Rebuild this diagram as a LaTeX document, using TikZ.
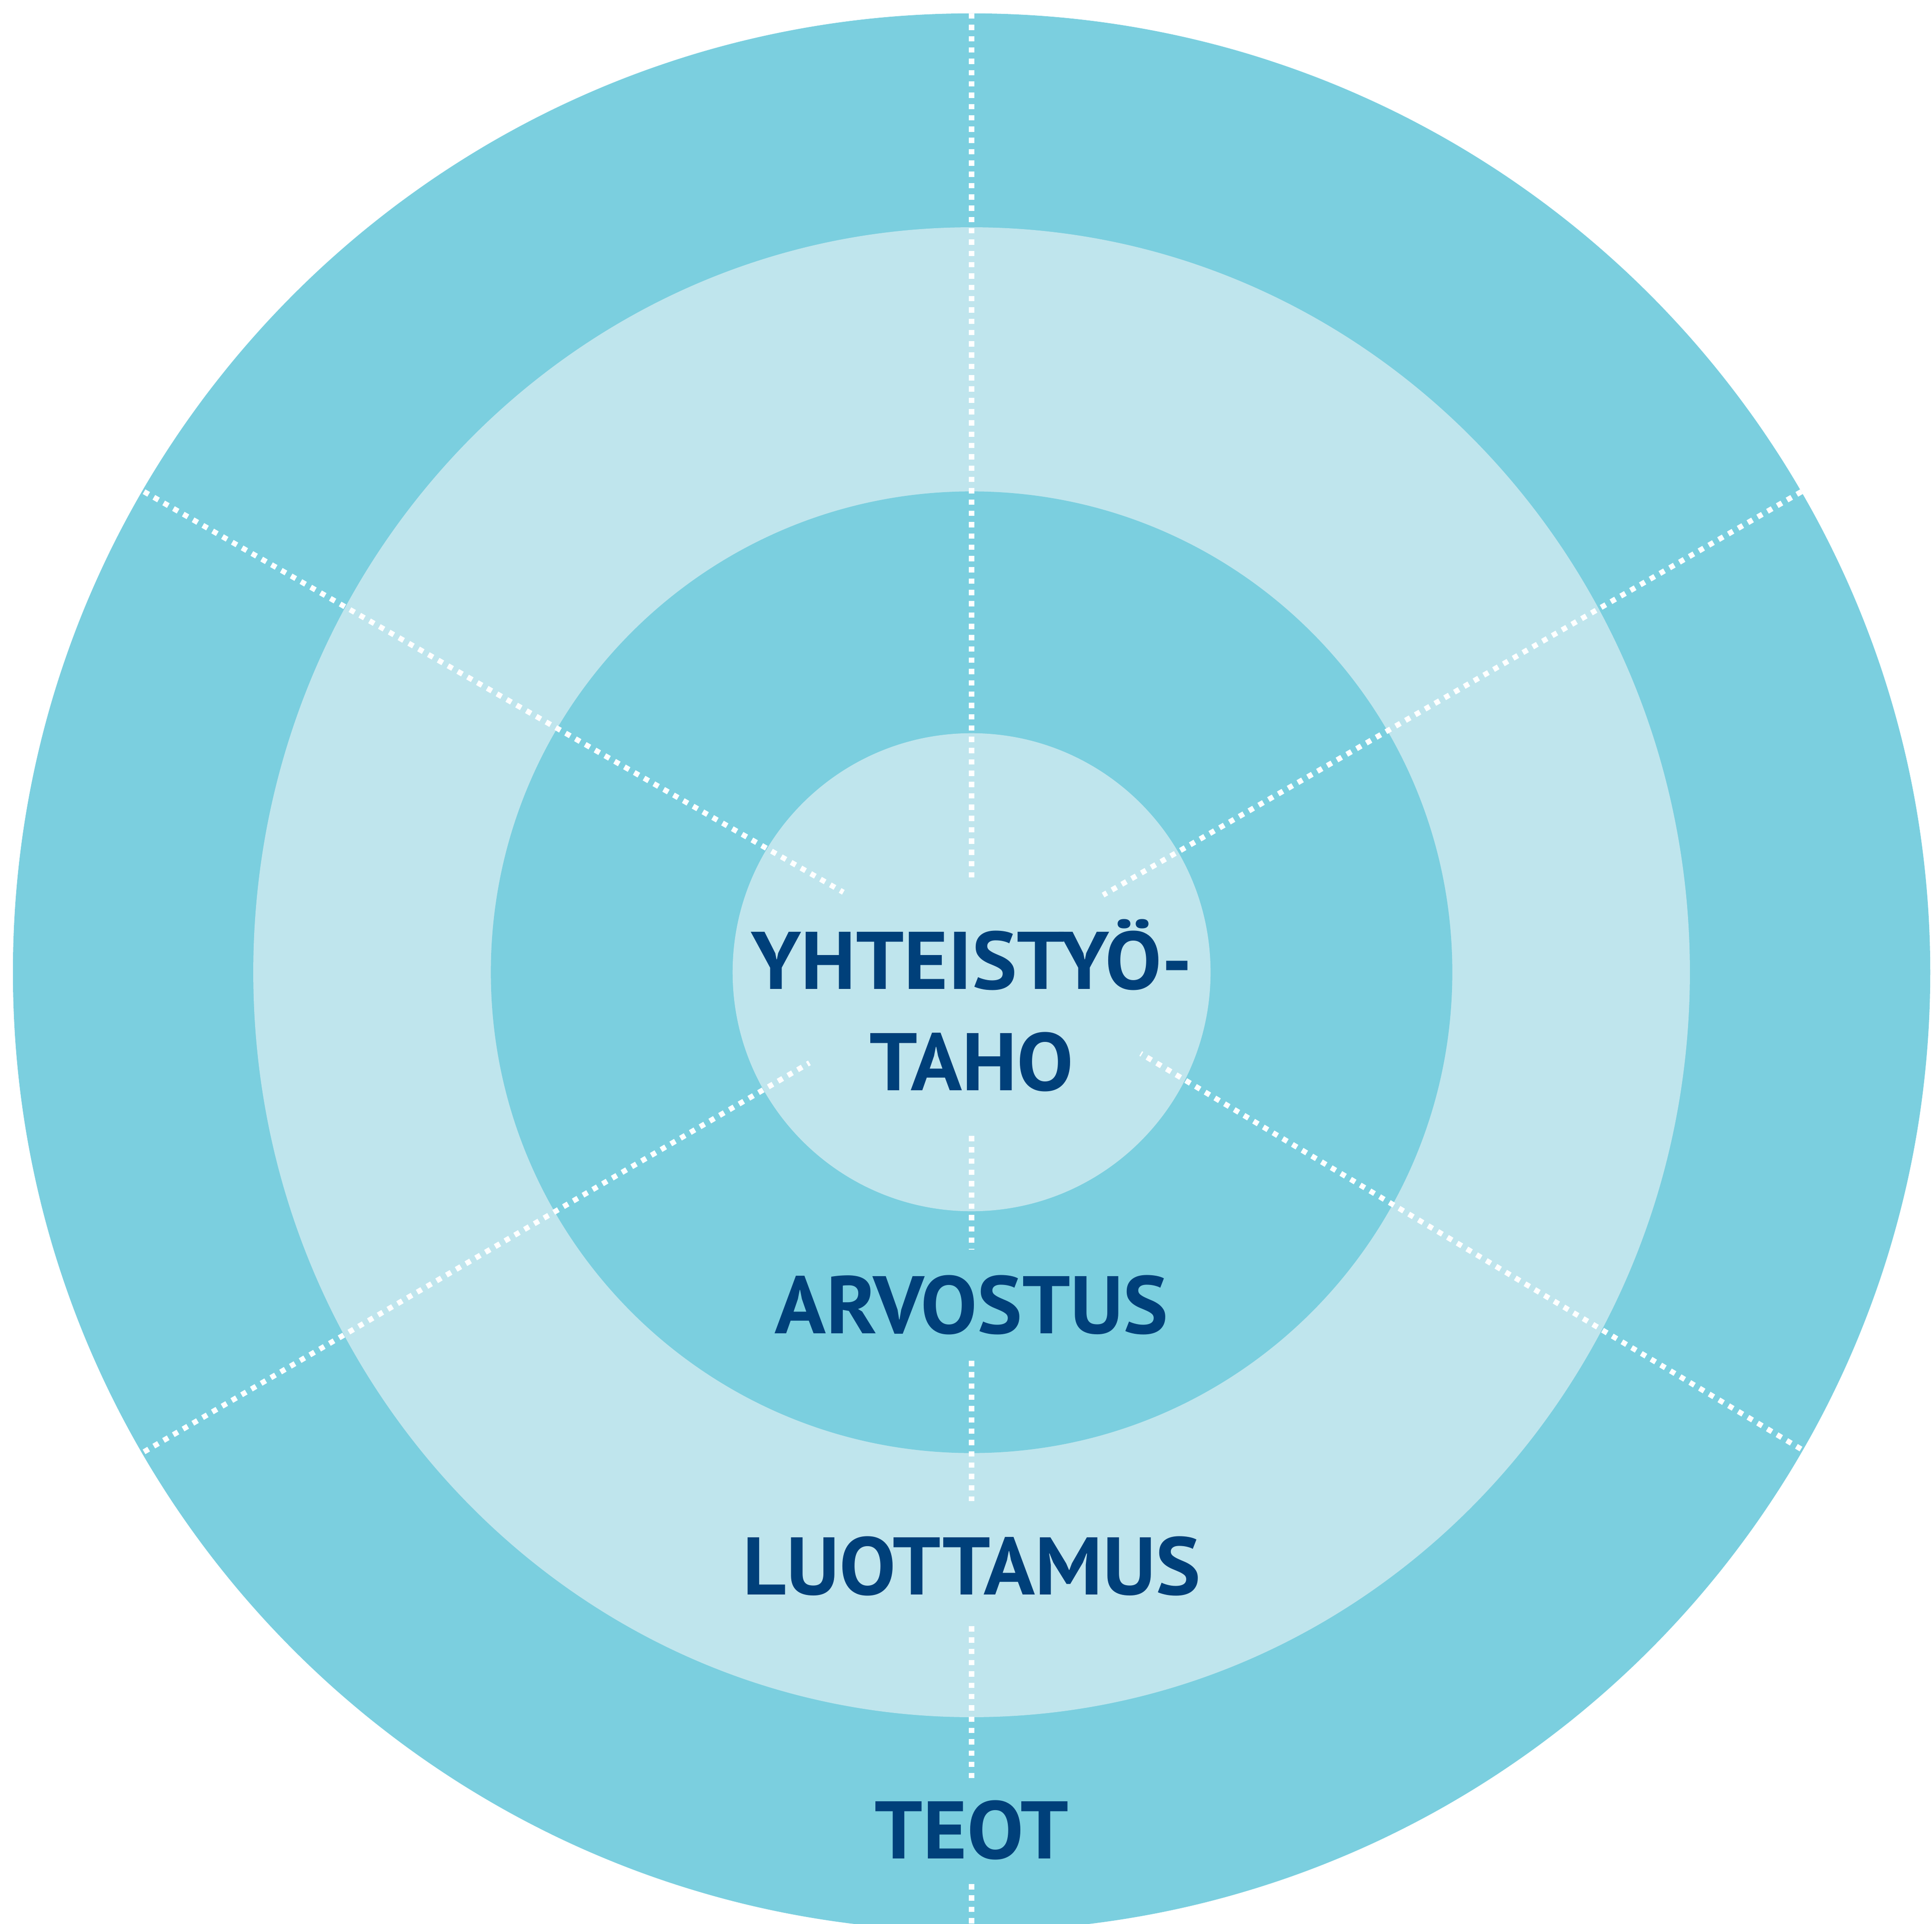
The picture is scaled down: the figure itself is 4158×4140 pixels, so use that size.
\documentclass[tikz,border=0pt]{standalone}
\usepackage{fontspec}
\setmainfont{PT Sans}
\definecolor{ringdark}{HTML}{7BCFDF}
\definecolor{ringlight}{HTML}{BFE5ED}
\definecolor{labelblue}{HTML}{00407A}
\newcommand{\widelbl}[1]{\scalebox{1.035}[1]{#1}}
\tikzset{
  dotline/.style={draw=white, line width=0.115cm, dash pattern=on 0.115cm off 0.128cm},
  ringlabel/.style={text=labelblue, font=\fontsize{50}{60}\selectfont\bfseries, inner sep=0pt, anchor=base}
}
\begin{document}
\begin{tikzpicture}[x=0.01cm,y=-0.01cm]
\useasboundingbox (0,0) rectangle (4158,4140);
\clip (0,0) rectangle (4158,4140);
\coordinate (c) at (2091,2092);
% rings
\fill[ringdark] (c) circle [radius=20.62cm];
\fill[ringlight] (c) ellipse [x radius=15.45cm, y radius=16.02cm];
\fill[ringdark] (c) circle [radius=10.34cm];
\fill[ringlight] (c) circle [radius=5.14cm];
% dotted line coordinates
\coordinate (v1a) at (2091,29);   \coordinate (v1b) at (2091,1888);
\coordinate (v2a) at (2091,2444); \coordinate (v2b) at (2091,2689);
\coordinate (v3a) at (2091,2928); \coordinate (v3b) at (2091,3230);
\coordinate (v4a) at (2091,3499); \coordinate (v4b) at (2091,3826);
\coordinate (v5a) at (2091,4054); \coordinate (v5b) at (2091,4150);
\coordinate (ula) at (310,1058);  \coordinate (ulb) at (1815,1920);
\coordinate (ura) at (3877,1058); \coordinate (urb) at (2374,1926);
\coordinate (lla) at (310,3124);  \coordinate (llb) at (1742,2287);
\coordinate (lra) at (3876,3118); \coordinate (lrb) at (2455,2267);
\draw[dotline] (v1a) -- (v1b);
\draw[dotline] (v2a) -- (v2b);
\draw[dotline] (v3a) -- (v3b);
\draw[dotline] (v4a) -- (v4b);
\draw[dotline] (v5a) -- (v5b);
\draw[dotline] (ula) -- (ulb);
\draw[dotline] (ura) -- (urb);
\draw[dotline] (lla) -- (llb);
\draw[dotline] (lra) -- (lrb);
% labels
\node[ringlabel] (yht) at (2091,2128) {\widelbl{YHTEISTYÖ-}};
\node[ringlabel] (taho) at (2091,2346) {\widelbl{TAHO}};
\node[ringlabel] (arv) at (2091,2869) {\widelbl{ARVOSTUS}};
\node[ringlabel] (luo) at (2091,3431) {\widelbl{LUOTTAMUS}};
\node[ringlabel] (teot) at (2091,3999) {\widelbl{TEOT}};
\end{tikzpicture}
\end{document}
